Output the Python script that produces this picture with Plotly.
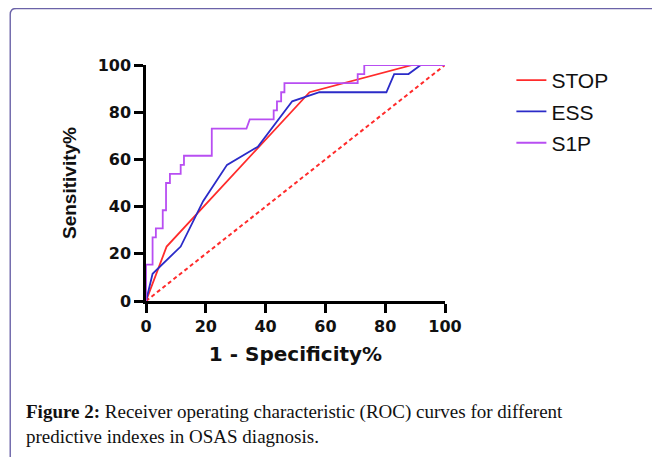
import plotly.graph_objects as go

# ---- data ----
stop_fpr = [0, 6.9, 54.7, 89.1, 100]
stop_tpr = [0, 23.08, 88.46, 100, 100]

ess_fpr = [0, 2.2, 11.6, 19.1, 27.1, 37.4, 48.9, 58.0, 80.4, 83.0, 87.8, 91.9, 100]
ess_tpr = [0, 11.54, 23.08, 42.31, 57.69, 65.38, 84.62, 88.46, 88.46, 96.15, 96.15, 100, 100]

s1p_fpr = [0, 0, 2.2, 2.2, 3.3, 3.3, 5.6, 5.6, 6.7, 6.7, 8.0, 8.0, 11.6, 11.6, 12.7, 12.7,
           22.0, 22.0, 33.6, 34.7, 42.7, 42.7, 43.8, 43.8, 45.2, 45.2, 46.3, 46.3,
           70.8, 70.8, 73.0, 73.0, 100]
s1p_tpr = [0, 15.38, 15.38, 26.92, 26.92, 30.77, 30.77, 38.46, 38.46, 50.0, 50.0, 53.85,
           53.85, 57.69, 57.69, 61.54, 61.54, 73.08, 73.08, 76.92, 76.92, 80.77, 80.77,
           84.62, 84.62, 88.46, 88.46, 92.31, 92.31, 96.15, 96.15, 100, 100]

ref_x = [0, 100]
ref_y = [0, 100]

tick_vals = [0, 20, 40, 60, 80, 100]
tick_text = ["0", "20", "40", "60", "80", "100"]

series_names = ["STOP", "ESS", "S1P"]
x_title = "1 - Specificity%"
y_title = "Sensitivity%"
caption = ("<b>Figure 2:</b> Receiver operating characteristic (ROC) curves for different"
           "<br>predictive indexes in OSAS diagnosis.")

RED = "#ff2b2b"
BLUE = "#2b2bc8"
PURPLE = "#b84ef2"

fig = go.Figure()
fig.add_trace(go.Scatter(x=ref_x, y=ref_y, mode="lines", showlegend=False,
                         line=dict(color=RED, width=2, dash="4px,3px"), hoverinfo="skip"))
fig.add_trace(go.Scatter(x=stop_fpr, y=stop_tpr, mode="lines", name=series_names[0],
                         legendgroup="a", line=dict(color=RED, width=1.8)))
fig.add_trace(go.Scatter(x=ess_fpr, y=ess_tpr, mode="lines", name=series_names[1],
                         legendgroup="b", line=dict(color=BLUE, width=1.8)))
fig.add_trace(go.Scatter(x=s1p_fpr, y=s1p_tpr, mode="lines", name=series_names[2],
                         legendgroup="c", line=dict(color=PURPLE, width=1.8)))

# page has an 8px body margin; figure is sized to fit the 660x457 window
OFF = 8
W, H = 660 - OFF, 457 - OFF
L = 146 - OFF
T = 65 - OFF
R = W - (445.5 - OFF)
B = H - (300.7 - OFF)
pw, ph = W - L - R, H - T - B


def xp(px):  # page pixel -> paper
    return (px - OFF - L) / pw


def yp(py):
    return 1 - (py - OFF - T) / ph


axis_common = dict(
    range=[0, 100], tickvals=tick_vals, ticktext=tick_text,
    showline=True, linecolor="black", linewidth=2.5,
    ticks="outside", ticklen=9, tickwidth=2.5, tickcolor="black",
    showgrid=False, zeroline=False,
    tickfont=dict(family="DejaVu Sans", size=16, color="#111", weight="bold"),
)

fig.update_layout(
    width=W, height=H,
    margin=dict(l=L, r=R, t=T, b=B, autoexpand=False),
    paper_bgcolor="white", plot_bgcolor="white",
    xaxis=dict(**axis_common,
               title=dict(text=x_title, standoff=13,
                          font=dict(family="DejaVu Sans", size=20, color="#111", weight="bold"))),
    yaxis=dict(**axis_common,
               title=dict(text=y_title, standoff=16,
                          font=dict(family="Liberation Sans", size=19, color="#111", weight="bold"))),
    legend=dict(x=xp(512), y=yp(60), xanchor="left", yanchor="top",
                font=dict(family="Liberation Sans", size=21, color="#111"),
                tracegroupgap=1, bgcolor="rgba(0,0,0,0)", itemwidth=30),
    showlegend=True,
    shapes=[dict(type="path", xref="paper", yref="paper",
                 path=(f"M {xp(10)},{yp(470)} L {xp(10)},{yp(14.5)} "
                       f"Q {xp(10)},{yp(8.5)} {xp(16)},{yp(8.5)} L {xp(680)},{yp(8.5)}"),
                 line=dict(color="#6b63a8", width=1.4))],
    annotations=[
        dict(text=caption, xref="paper", yref="paper", x=xp(24), y=yp(424),
             xanchor="left", yanchor="middle", align="left", showarrow=False,
             font=dict(family="Liberation Serif", size=19, color="#111")),
    ],
)

fig.write_html("out.html")
